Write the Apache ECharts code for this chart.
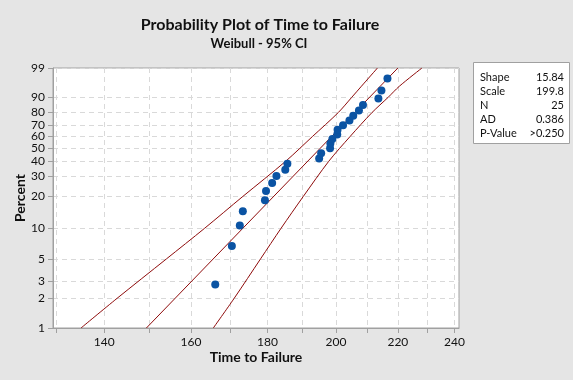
<!DOCTYPE html>
<html><head><meta charset="utf-8">
<script src="https://cdn.jsdelivr.net/npm/echarts@6/dist/echarts.min.js"></script>
<style>html,body{margin:0;padding:0;background:#e5e5e5}#c{width:573px;height:380px}</style>
</head><body><div id="c"></div>
<script>
// ---- data ----
const failTimes = [166.1,170.4,172.5,173.3,179.3,179.6,181.3,182.5,185.0,185.6,194.9,195.5,198.2,198.3,198.9,200.4,200.5,202.2,204.2,205.4,207.2,208.5,213.5,214.5,216.5];
const failPercents = [2.76,6.69,10.63,14.57,18.50,22.44,26.38,30.31,34.25,38.19,42.13,46.06,50.00,53.94,57.87,61.81,65.75,69.69,73.62,77.56,81.50,85.43,89.37,93.31,97.24];
const fitTimes = [149.4, 220.0];
const fitPercents = [1, 99];
const upperTimes = [135.1,142.8,154.1,163.4,173.3,185.1,192.9,200.7,204.9,208.0,213.2];
const upperPercents = [1,2,5,10,20,40,60,80,90,95,99];
const lowerTimes = [165.6,171.0,178.1,183.8,190.2,197.8,204.4,211.4,216.7,220.5,228.3];
const lowerPercents = [1,2,5,10,20,40,60,80,90,95,99];
const xTickValues = [130,140,150,160,170,180,190,200,210,220,230,240];
const xLabelValues = [140,160,180,200,220,240];
const yTickValues = [1,2,3,5,10,20,30,40,50,60,70,80,90,99];
const statNames = ['Shape','Scale','N','AD','P-Value'];
const statValues = ['15.84','199.8','25','0.386','>0.250'];
const titleText = 'Probability Plot of Time to Failure';
const subtitleText = 'Weibull - 95% CI';
const xName = 'Time to Failure';
const yName = 'Percent';

// ---- scale transforms (log x, Weibull y) ----
const tx = t => Math.log(t);
const ty = p => Math.log(-Math.log(1 - p / 100));
const pairs = (ts, ps) => ts.map((t, i) => [tx(t), ty(ps[i])]);

const FONT = 'Lato, "Noto Sans", sans-serif';
const RED = '#8e0b0b';
const BLUE = '#0a53a3';

const chart = echarts.init(document.getElementById('c'), null, {renderer: 'canvas'});
const graphics = [
  {type:'text', x:260, y:25, style:{text:titleText, font:'bold 16px ' + FONT, fill:'#111', align:'center', verticalAlign:'middle', textAlign:'center', textVerticalAlign:'middle'}},
  {type:'text', x:259, y:44, style:{text:subtitleText, font:'bold 13px ' + FONT, fill:'#111', align:'center', verticalAlign:'middle', textAlign:'center', textVerticalAlign:'middle'}},
  {type:'text', x:256, y:357, style:{text:xName, font:'bold 14px ' + FONT, fill:'#111', align:'center', verticalAlign:'middle', textAlign:'center', textVerticalAlign:'middle'}},
  {type:'text', x:20, y:198, rotation:Math.PI/2, style:{text:yName, font:'bold 14px ' + FONT, fill:'#111', align:'center', verticalAlign:'middle', textAlign:'center', textVerticalAlign:'middle'}},
  {type:'rect', shape:{x:473.5, y:62.5, width:96, height:81}, style:{fill:'#fff', stroke:'#a0a0a0', lineWidth:1}}
];
statNames.forEach((n, i) => {
  graphics.push({type:'text', x:480, y:77 + i*14, style:{text:n, font:'11px ' + FONT, fill:'#111', align:'left', verticalAlign:'middle', textAlign:'left', textVerticalAlign:'middle'}});
  graphics.push({type:'text', x:564, y:77 + i*14, style:{text:statValues[i], font:'11px ' + FONT, fill:'#111', align:'right', verticalAlign:'middle', textAlign:'right', textVerticalAlign:'middle'}});
});

const lineSeries = (name, data, smooth) => ({
  name, type:'line', data, smooth: smooth ? 0.3 : false, showSymbol:false, symbol:'none',
  lineStyle:{color:RED, width:1}, silent:true, z:3, clip:true
});

chart.setOption({
  animation:false,
  backgroundColor:'#e5e5e5',
  grid:{left:53, top:68, width:406, height:260, show:true, backgroundColor:'#fff', borderColor:'#a0a0a0', borderWidth:1},
  xAxis:{
    type:'value', min:tx(129.4), max:tx(241.7),
    axisLine:{show:true, onZero:false, lineStyle:{color:'#a0a0a0'}},
    axisTick:{show:true, length:5, customValues:xTickValues.map(tx), lineStyle:{color:'#a0a0a0'}},
    axisLabel:{customValues:xLabelValues.map(tx), formatter:v => String(Math.round(Math.exp(v))), color:'#111', fontSize:12, fontFamily:FONT, margin:8},
    splitLine:{show:true, lineStyle:{color:'#d9d9d9', type:[5,4], width:1}}
  },
  yAxis:{
    type:'value', min:ty(1), max:ty(99),
    axisLine:{show:true, onZero:false, lineStyle:{color:'#a0a0a0'}},
    axisTick:{show:true, length:5, customValues:yTickValues.map(ty), lineStyle:{color:'#a0a0a0'}},
    axisLabel:{customValues:yTickValues.map(ty), formatter:v => String(Math.round(100*(1-Math.exp(-Math.exp(v))))), color:'#111', fontSize:12, fontFamily:FONT, margin:8},
    splitLine:{show:true, lineStyle:{color:'#d9d9d9', type:[5,4], width:1}}
  },
  graphic:graphics,
  series:[
    lineSeries('upper', pairs(upperTimes, upperPercents), true),
    lineSeries('lower', pairs(lowerTimes, lowerPercents), true),
    lineSeries('fit', pairs(fitTimes, fitPercents), false),
    {name:'data', type:'scatter', data:pairs(failTimes, failPercents), symbol:'circle', symbolSize:8, itemStyle:{color:BLUE, opacity:1}, z:5, silent:true}
  ]
});
</script></body></html>
